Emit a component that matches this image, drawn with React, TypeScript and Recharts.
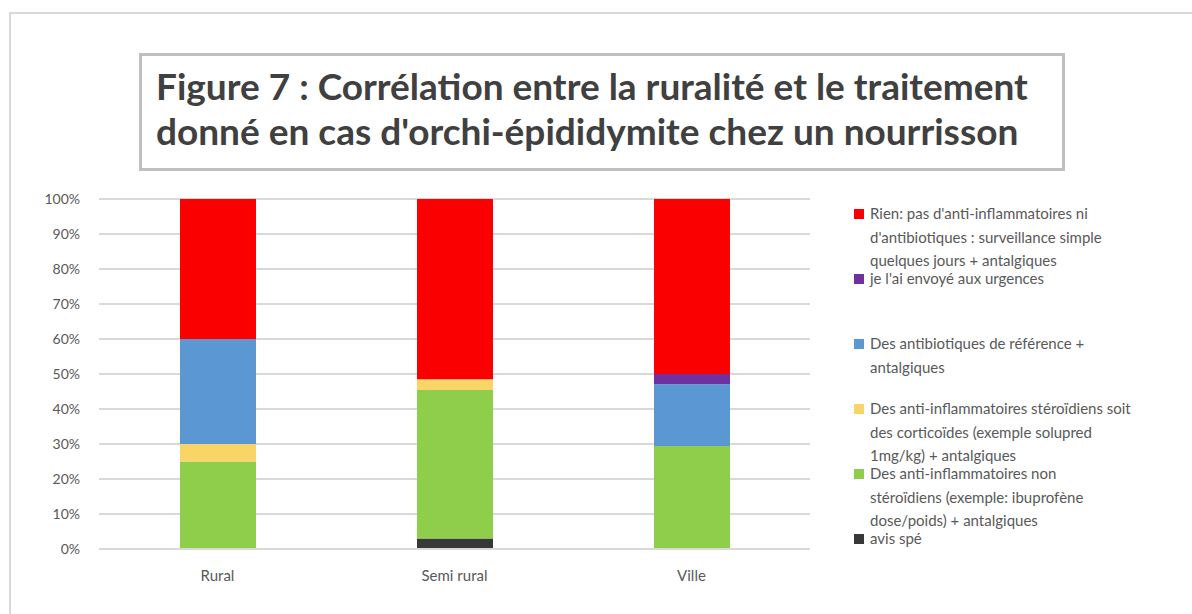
import type { ReactElement } from "react";
import { BarChart, Bar, XAxis, YAxis, CartesianGrid, Legend } from "recharts";

const CATEGORIES = ["Rural", "Semi rural", "Ville"];

// percentages per category, bottom of the stack first
const AVIS_SPE = [0, 3.03, 0];
const AINS = [25, 42.42, 29.41];
const STEROIDIENS = [5, 3.03, 0];
const ANTIBIOTIQUES = [30, 0, 17.65];
const URGENCES = [0, 0, 2.94];
const RIEN = [40, 51.52, 50];

const Y_TICKS = [0, 10, 20, 30, 40, 50, 60, 70, 80, 90, 100];

const SERIES = [
    { key: "avis", values: AVIS_SPE, color: "#383838" },
    { key: "ains", values: AINS, color: "#8FCE4B" },
    { key: "steroidiens", values: STEROIDIENS, color: "#F9D466" },
    { key: "antibiotiques", values: ANTIBIOTIQUES, color: "#5B97D3" },
    { key: "urgences", values: URGENCES, color: "#7030A0" },
    { key: "rien", values: RIEN, color: "#FA0000" },
];

const LEGEND_ORDER = ["rien", "urgences", "antibiotiques", "steroidiens", "ains", "avis"];

const LEGEND_LINES: Record<string, string[]> = {
    rien: [
        "Rien: pas d'anti-inflammatoires ni",
        "d'antibiotiques : surveillance simple",
        "quelques jours + antalgiques",
    ],
    urgences: ["je l'ai envoyé aux urgences"],
    antibiotiques: ["Des antibiotiques de référence +", "antalgiques"],
    steroidiens: [
        "Des anti-inflammatoires stéroïdiens soit",
        "des corticoïdes (exemple solupred",
        "1mg/kg) + antalgiques",
    ],
    ains: [
        "Des anti-inflammatoires non",
        "stéroïdiens (exemple: ibuprofène",
        "dose/poids) + antalgiques",
    ],
    avis: ["avis spé"],
};

const data = CATEGORIES.map((name, i) => {
    const row: Record<string, string | number> = { name };
    SERIES.forEach((s) => {
        row[s.key] = s.values[i];
    });
    return row;
});

const FONT = "Lato, 'Open Sans', sans-serif";

function LegendContent(): ReactElement {
    return (
        <div style={{ fontFamily: FONT, fontSize: 15, color: "#595959" }}>
            {LEGEND_ORDER.map((key) => {
                const s = SERIES.find((x) => x.key === key)!;
                return (
                    <div key={key} style={{ position: "relative", height: 65, lineHeight: "23.5px" }}>
                        <span
                            style={{
                                position: "absolute",
                                left: 0,
                                top: 7,
                                width: 10,
                                height: 10,
                                background: s.color,
                            }}
                        />
                        <div style={{ position: "absolute", left: 16, top: 0, whiteSpace: "nowrap" }}>
                            {LEGEND_LINES[key].map((line, j) => (
                                <div key={j}>{line}</div>
                            ))}
                        </div>
                    </div>
                );
            })}
        </div>
    );
}

export default function App(): ReactElement {
    return (
        <div
            style={{
                position: "absolute",
                left: 0,
                top: 0,
                width: 1192,
                height: 614,
                overflow: "hidden",
                background: "white",
                fontFamily: FONT,
            }}
        >
            <div
                style={{
                    position: "absolute",
                    left: 9,
                    top: 12,
                    width: 1200,
                    height: 640,
                    border: "2px solid #D9D9D9",
                }}
            />
            <div
                style={{
                    position: "absolute",
                    left: 139,
                    top: 53,
                    width: 906,
                    height: 105,
                    border: "3px solid #BFBFBF",
                    paddingLeft: 14,
                    paddingTop: 7,
                    boxSizing: "content-box",
                    color: "#404040",
                    fontWeight: 700,
                    fontSize: 37,
                    lineHeight: "45px",
                    whiteSpace: "nowrap",
                }}
            >
                <div>Figure 7 : Corrélation entre la ruralité et le traitement</div>
                <div>donné en cas d'orchi-épididymite chez un nourrisson</div>
            </div>
            <div style={{ position: "absolute", left: 0, top: 0 }}>
                <BarChart
                    width={1192}
                    height={614}
                    data={data}
                    margin={{ top: 199, right: 382, bottom: 35, left: 0 }}
                >
                    <CartesianGrid vertical={false} stroke="#D9D9D9" strokeWidth={2} />
                    <XAxis
                        dataKey="name"
                        axisLine={{ stroke: "#D9D9D9", strokeWidth: 2 }}
                        tickLine={false}
                        tickSize={0}
                        tickMargin={21}
                        tick={{ fill: "#595959", fontSize: 15, fontFamily: FONT }}
                    />
                    <YAxis
                        width={99}
                        domain={[0, 100]}
                        ticks={Y_TICKS}
                        tickFormatter={(v) => `${v}%`}
                        axisLine={false}
                        tickLine={false}
                        tickSize={0}
                        tickMargin={19}
                        tick={{ fill: "#595959", fontSize: 14, fontFamily: FONT }}
                    />
                    <Legend
                        layout="horizontal"
                        verticalAlign="middle"
                        content={() => <LegendContent />}
                        wrapperStyle={{ left: 854, top: 202, width: 338 }}
                    />
                    {SERIES.map((s) => (
                        <Bar
                            key={s.key}
                            dataKey={s.key}
                            stackId="a"
                            fill={s.color}
                            barSize={76}
                            isAnimationActive={false}
                        />
                    ))}
                </BarChart>
            </div>
        </div>
    );
}
